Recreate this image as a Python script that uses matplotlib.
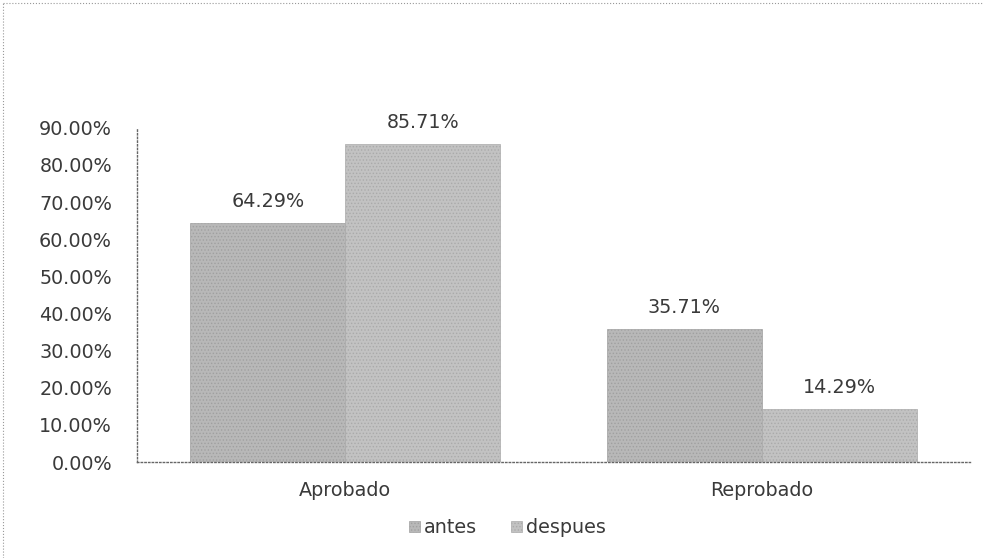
import matplotlib
matplotlib.use("Agg")
import matplotlib.pyplot as plt
import numpy as np

categories = ["Aprobado", "Reprobado"]
series_names = ["antes", "despues"]
antes = [0.6429, 0.3571]
despues = [0.8571, 0.1429]
yticks = [0.0, 0.1, 0.2, 0.3, 0.4, 0.5, 0.6, 0.7, 0.8, 0.9]

plt.rcParams['font.family'] = ['DejaVu Sans']
plt.rcParams['hatch.color'] = '#8a8a8a'
plt.rcParams['hatch.linewidth'] = 0.6

FS = 13.8
TC = '#3a3a3a'

fig = plt.figure(figsize=(9.85, 5.58), dpi=100)
ax = fig.add_axes([0.139, 0.172, 0.846, 0.599])

x = np.arange(len(categories))
w = 0.372
c1, c2 = '#b8b8b8', '#c2c2c2'
b1 = ax.bar(x - w/2, antes, w, color=c1, edgecolor='#a0a0a0', linewidth=0.5, hatch='.....', label=series_names[0])
b2 = ax.bar(x + w/2, despues, w, color=c2, edgecolor='#aaaaaa', linewidth=0.5, hatch='.....', label=series_names[1])

for bars, vals in ((b1, antes), (b2, despues)):
    for b, v in zip(bars, vals):
        ax.text(b.get_x() + b.get_width()/2, v + 0.058, f"{v*100:.2f}%",
                ha='center', va='center', fontsize=FS, color=TC)

ax.set_xlim(-0.5, 1.5)
ax.set_ylim(0, 0.9)
ax.set_yticks(yticks)
ax.set_yticklabels([f"{t*100:.2f}%" for t in yticks], fontsize=FS, color=TC)
ax.set_xticks(x)
ax.set_xticklabels(categories, fontsize=FS, color=TC)
ax.tick_params(axis='y', length=0, pad=18)
ax.tick_params(axis='x', length=0, pad=14)

for s in ['top', 'right']:
    ax.spines[s].set_visible(False)
for s in ['left', 'bottom']:
    ax.spines[s].set_linestyle(':')
    ax.spines[s].set_color('#666666')
    ax.spines[s].set_linewidth(1)

leg = fig.legend(handles=[b1, b2], labels=series_names, loc='center',
                 bbox_to_anchor=(0.515, 0.054), ncol=2, frameon=False,
                 fontsize=FS, handlelength=0.55, handleheight=0.55,
                 handletextpad=0.2, columnspacing=1.8)
for t in leg.get_texts():
    t.set_color(TC)

# dotted frame (top and left) like the scanned page
fig.add_artist(plt.Line2D([0.003, 0.997], [0.995, 0.995], transform=fig.transFigure,
                          linestyle=':', color='#999999', linewidth=0.8))
fig.add_artist(plt.Line2D([0.003, 0.003], [0.0, 0.995], transform=fig.transFigure,
                          linestyle=':', color='#999999', linewidth=0.8))

fig.savefig("out.png", dpi=100)
